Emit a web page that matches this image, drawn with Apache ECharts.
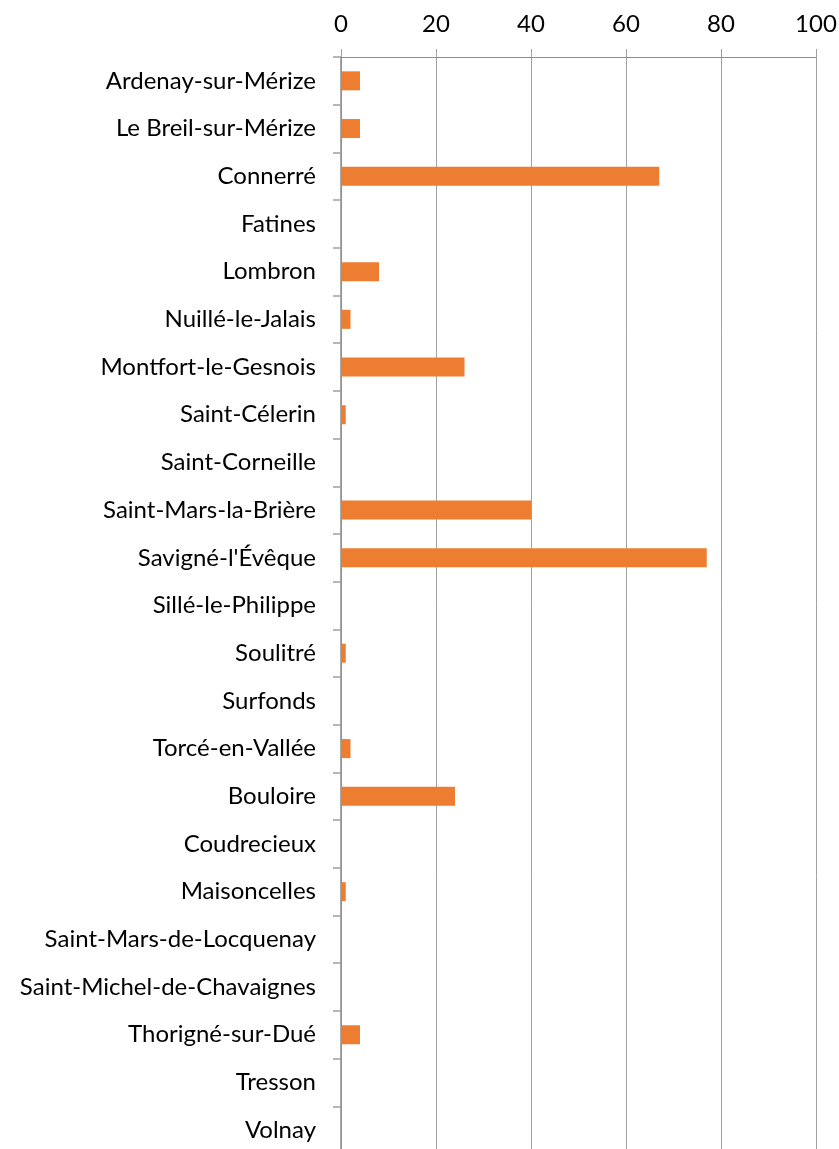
<!DOCTYPE html>
<html>
<head>
<meta charset="utf-8">
<script src="https://cdn.jsdelivr.net/npm/echarts@6/dist/echarts.min.js"></script>
<style>
  html, body { margin: 0; padding: 0; background: #fff; }
  #chart { width: 839px; height: 1149px; }
</style>
</head>
<body>
<div id="chart"></div>
<script>
// Communes, listed top to bottom
const communes = [
  'Ardenay-sur-Mérize', 'Le Breil-sur-Mérize', 'Connerré', 'Fatines', 'Lombron',
  'Nuillé-le-Jalais', 'Montfort-le-Gesnois', 'Saint-Célerin', 'Saint-Corneille',
  'Saint-Mars-la-Brière', "Savigné-l'Évêque", 'Sillé-le-Philippe', 'Soulitré',
  'Surfonds', 'Torcé-en-Vallée', 'Bouloire', 'Coudrecieux', 'Maisoncelles',
  'Saint-Mars-de-Locquenay', 'Saint-Michel-de-Chavaignes', 'Thorigné-sur-Dué',
  'Tresson', 'Volnay'
];

// Value for each commune
const values = [4, 4, 67, 0, 8, 2, 26, 1, 0, 40, 77, 0, 1, 0, 2, 24, 0, 1, 0, 0, 4, 0, 0];

// Value axis range and step
const axisMin = 0;
const axisMax = 100;
const axisStep = 20;

const fontFamily = 'Lato, "Open Sans", sans-serif';

const chart = echarts.init(document.getElementById('chart'), null, { renderer: 'canvas' });

chart.setOption({
  animation: false,
  backgroundColor: '#ffffff',
  grid: {
    left: 341, right: 23, top: 57, height: 1097,
    containLabel: false,
    outerBoundsMode: 'none'
  },
  xAxis: {
    type: 'value',
    position: 'top',
    min: axisMin,
    max: axisMax,
    interval: axisStep,
    axisLine: { show: true, lineStyle: { color: '#8c8c8c', width: 1 } },
    axisTick: { show: true, length: 8, lineStyle: { color: '#a0a0a0', width: 1 } },
    splitLine: { show: true, lineStyle: { color: '#a0a0a0', width: 1 } },
    axisLabel: { color: '#000', fontSize: 24, fontFamily: fontFamily, margin: 21 }
  },
  yAxis: {
    type: 'category',
    data: communes,
    inverse: true,
    axisLine: { show: true, lineStyle: { color: '#8c8c8c', width: 1.5 } },
    axisTick: { show: true, length: 8, lineStyle: { color: '#a0a0a0', width: 1.5 } },
    axisLabel: { color: '#000', fontSize: 24, fontFamily: fontFamily, margin: 25 },
    splitLine: { show: false }
  },
  series: [{
    type: 'bar',
    data: values,
    barWidth: 19,
    itemStyle: { color: '#ED7D31' },
    silent: true
  }]
});
</script>
</body>
</html>
